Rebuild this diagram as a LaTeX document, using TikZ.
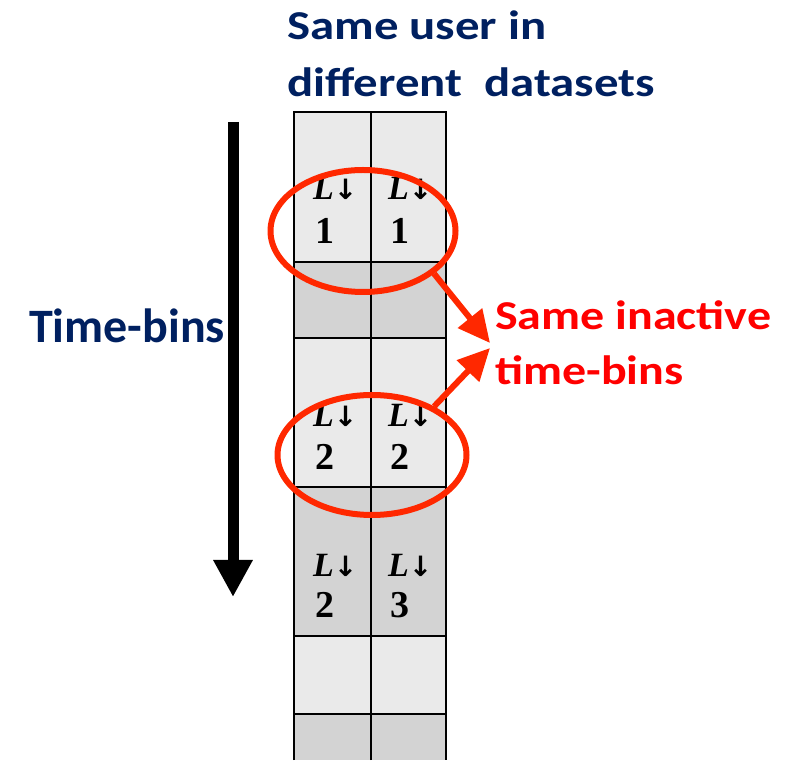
\documentclass[tikz,border=0pt]{standalone}
\usepackage{fontspec}
\setmainfont{Carlito}
\newfontfamily\cellfont{Liberation Serif}
\newfontfamily\arrowfont{DejaVu Sans}
\usetikzlibrary{shapes.geometric,arrows.meta}

\definecolor{navy}{HTML}{002060}
\definecolor{hotred}{HTML}{FF0000}
\definecolor{ringred}{RGB}{255,40,0}
\definecolor{lightcell}{HTML}{EAEAEA}
\definecolor{darkcell}{HTML}{D3D3D3}

\tikzset{
  heading/.style={anchor=base west, inner sep=0pt, text=navy,
    font=\fontsize{41}{57}\selectfont\bfseries, align=left, xscale=1.19},
  sidelabel/.style={anchor=base west, inner sep=0pt, text=navy,
    font=\fontsize{48}{56}\selectfont\bfseries},
  note/.style={anchor=base west, inner sep=0pt, text=hotred,
    font=\fontsize{41}{55.7}\selectfont\bfseries, align=left, xscale=1.17},
  ltext/.style={anchor=base west, inner sep=0pt,
    font=\fontsize{34}{34}\selectfont\cellfont\bfseries\itshape},
  ntext/.style={anchor=base west, inner sep=0pt,
    font=\fontsize{38}{38}\selectfont\cellfont\bfseries},
  ring/.style={ellipse, draw=ringred, line width=6pt, inner sep=0pt},
  pointer/.style={draw=ringred, line width=6pt,
    -{Triangle[length=32pt,width=30pt]}},
  gridline/.style={draw=black, line width=2.8pt},
}

\newcommand{\Ldown}{L{\arrowfont\upshape\bfseries\fontsize{28}{28}\selectfont ↓}}

\begin{document}
\begin{tikzpicture}[x=1pt,y=1pt]
\useasboundingbox (0,0) rectangle (789,760);

% shaded time-bin rows of the two-column strip
\fill[lightcell] (294,648) rectangle (446,498);
\fill[darkcell]  (294,498) rectangle (446,422);
\fill[lightcell] (294,422) rectangle (446,273);
\fill[darkcell]  (294,273) rectangle (446,124);
\fill[lightcell] (294,124) rectangle (446,46);
\fill[darkcell]  (294,46)  rectangle (446,0);

% cell borders
\draw[gridline] (294,0) -- (294,648) -- (446,648) -- (446,0);
\draw[gridline] (371,0) -- (371,648);
\foreach \yy in {498,422,273,124,46}
  \draw[gridline] (294,\yy) -- (446,\yy);

% cell contents
\node[ltext] (la1) at (313,560) {\Ldown};
\node[ntext] (na1) at (315,516) {1};
\node[ltext] (lb1) at (388,560) {\Ldown};
\node[ntext] (nb1) at (390,516) {1};

\node[ltext] (la2) at (313,333) {\Ldown};
\node[ntext] (na2) at (315,290) {2};
\node[ltext] (lb2) at (388,333) {\Ldown};
\node[ntext] (nb2) at (390,290) {2};

\node[ltext] (la3) at (313,183) {\Ldown};
\node[ntext] (na3) at (315,142) {2};
\node[ltext] (lb3) at (388,183) {\Ldown};
\node[ntext] (nb3) at (390,142) {3};

% headings (base anchor sits on the last line)
\node[heading] (title) at (287,663.3) {Same user in\\different\ \ datasets};
\node[sidelabel] (axis) at (29,417.3) {Time-bins};

% time axis arrow
\coordinate (axistop) at (233,638);
\coordinate (axisend) at (233,163);
\draw[line width=11pt, -{Triangle[length=37pt,width=37pt]}] (axistop) -- (axisend);

% highlighted matching pairs
\node[ring, minimum width=185pt, minimum height=122pt] (ringA) at (363,529) {};
\node[ring, minimum width=189pt, minimum height=120pt] (ringB) at (372,305) {};

% explanation and pointers
\node[note] (inactive) at (495,375) {Same inactive\\time-bins};
\coordinate (tipA) at (490,417);
\coordinate (tipB) at (490,412);
\draw[pointer] (ringA.-31) -- (tipA);
\draw[pointer] (ringB.38) -- (tipB);
\end{tikzpicture}
\end{document}
